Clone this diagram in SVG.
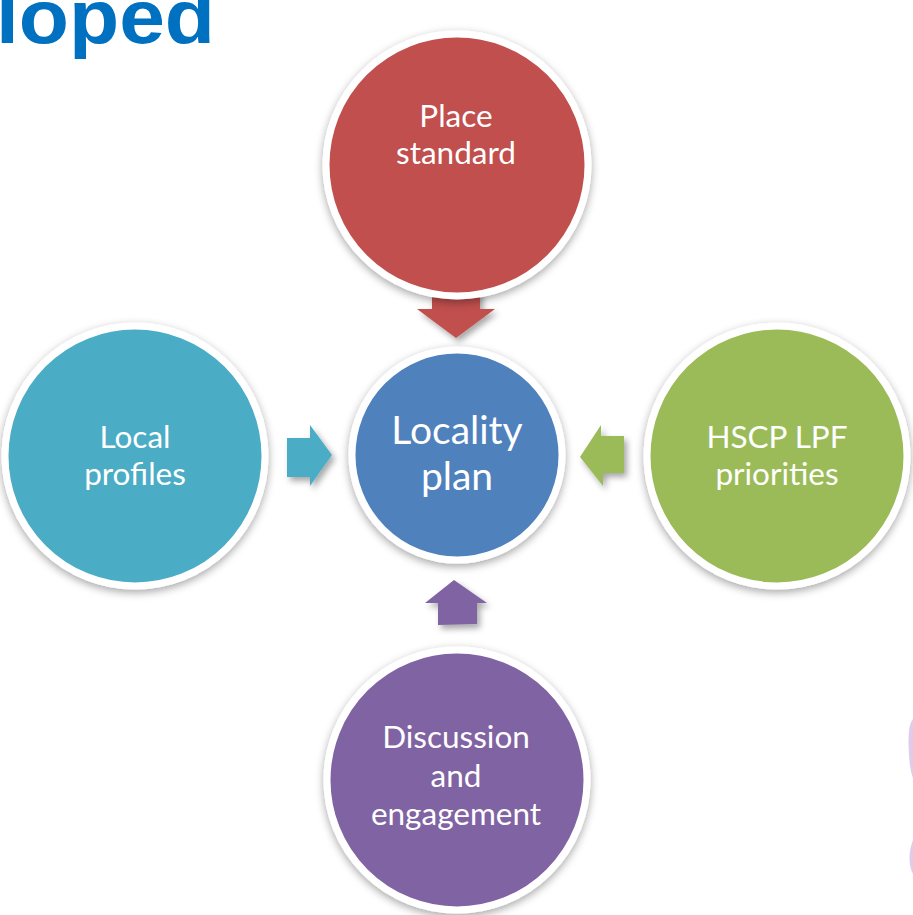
<svg xmlns="http://www.w3.org/2000/svg" width="913" height="915" viewBox="0 0 913 915">
<style>
.ring{stroke:#ffffff;stroke-width:7}
.lbl{font-family:Lato,"Open Sans","Liberation Sans",sans-serif;fill:#ffffff;text-anchor:middle;font-size:31.5px}
.big{font-size:39px}
</style>
<defs>
<filter id="sh" x="-20%" y="-20%" width="140%" height="140%">
<feDropShadow dx="0" dy="3" stdDeviation="4" flood-color="#000" flood-opacity="0.35"/>
</filter>
<filter id="ash" x="-30%" y="-30%" width="160%" height="160%">
<feDropShadow dx="3" dy="4" stdDeviation="3" flood-color="#000" flood-opacity="0.35"/>
</filter>
</defs>
<rect width="913" height="915" fill="#ffffff"/>
<text x="-4" y="43" font-family="Liberation Sans,Arial,sans-serif" font-weight="bold" font-size="76" fill="#0070C0" textLength="219" lengthAdjust="spacingAndGlyphs">loped</text>
<path d="M913 719 Q908 724 908.5 745 Q909 768 913 778 Z" fill="#E0CCEA"/>
<path d="M913 840 Q909 850 909.5 860 Q910 869 913 874 Z" fill="#E0CCEA"/>
<g id="connectors" filter="url(#ash)">
<polygon points="432,280 480,280 480,309 495,309 456,338 417,309 432,309" fill="#C0504D"/>
<polygon points="287,438 310,438 310,425 332,455 310,486 310,477 287,477" fill="#4BACC6"/>
<polygon points="624,436 601,436 601,425 580,457 603,486 603,473 624,473" fill="#9BBB59"/>
<polygon points="438,625 477,624 477,603 487,603 454,580 425,603 438,603" fill="#8064A2"/>
</g>
<g id="place-standard">
<circle cx="457" cy="165" r="131" fill="#C0504D" class="ring" filter="url(#sh)"/>
<text class="lbl" x="456" y="127">Place</text>
<text class="lbl" x="456" y="164">standard</text>
</g>
<g id="locality-plan">
<circle cx="457" cy="455" r="105" fill="#4F81BD" class="ring" filter="url(#sh)"/>
<text class="lbl big" x="457" y="444">Locality</text>
<text class="lbl big" x="457" y="490">plan</text>
</g>
<g id="local-profiles">
<circle cx="135" cy="456" r="130" fill="#4BACC6" class="ring" filter="url(#sh)"/>
<text class="lbl" x="135" y="448">Local</text>
<text class="lbl" x="135" y="485">profiles</text>
</g>
<g id="hscp-lpf-priorities">
<circle cx="777" cy="456" r="130" fill="#9BBB59" class="ring" filter="url(#sh)"/>
<text class="lbl" x="777" y="448">HSCP LPF</text>
<text class="lbl" x="777" y="485">priorities</text>
</g>
<g id="discussion-and-engagement">
<circle cx="457" cy="780" r="130" fill="#8064A2" class="ring" filter="url(#sh)"/>
<text class="lbl" x="456" y="748">Discussion</text>
<text class="lbl" x="456" y="787">and</text>
<text class="lbl" x="456" y="825">engagement</text>
</g>
</svg>
